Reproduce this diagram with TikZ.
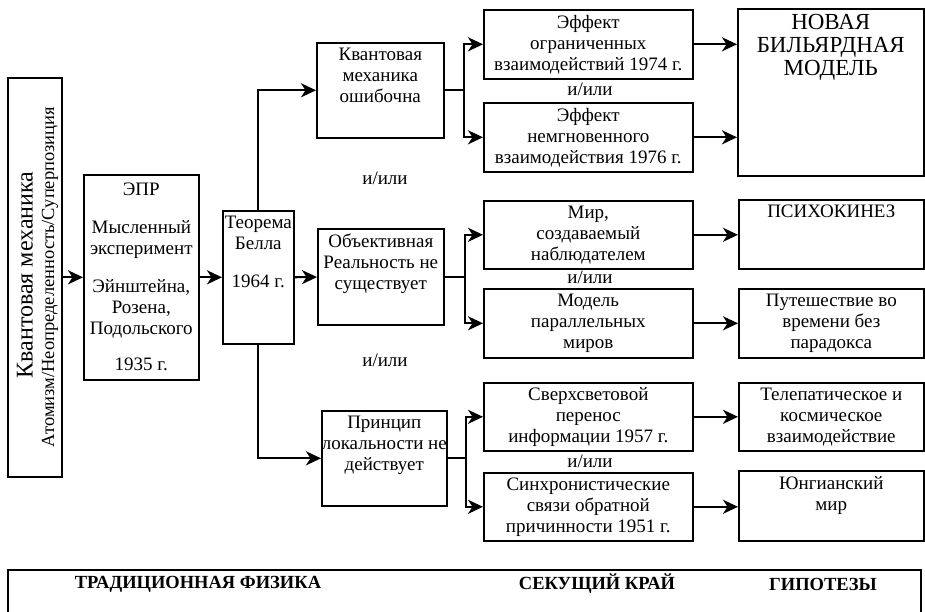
\documentclass[tikz,border=0pt]{standalone}
\usepackage{fontspec}
\setmainfont{Liberation Serif}
\usepackage{tikz}
\usetikzlibrary{arrows.meta, positioning}

\begin{document}
\begin{tikzpicture}[
  x=1pt, y=-1pt,
  font=\fontsize{19}{21}\selectfont,
  box/.style={draw, line width=1.6pt, anchor=north west, inner sep=2pt,
              align=center},
  toptext/.style={label={[anchor=north, align=center, inner sep=6pt]north:{#1}}},
  bigtext/.style={label={[anchor=north, align=center, inner sep=6pt,
                  font=\fontsize{23}{23}\selectfont]north:{#1}}},
  arr/.style={-{Stealth[length=15pt, width=14pt, inset=4.5pt]}, line width=2.2pt},
  orlbl/.style={inner sep=0pt},
  legend/.style={font=\fontsize{18.5}{20}\selectfont\bfseries}
]
  \useasboundingbox (0,0) rectangle (925,611);

  % traditional physics
  \node[box, minimum width=54pt, minimum height=399pt] (qm) at (7,77) {};
  \node[rotate=90, font=\fontsize{24}{28}\selectfont] (qmtitle) at (25,275) {Квантовая механика};
  \node[rotate=90, font=\fontsize{18.5}{21}\selectfont] (qmsub) at (50,277) {Атомизм/Неопределенность/Суперпозиция};
  \node[box, minimum width=115pt, minimum height=205pt] (epr) at (83,174)
    {ЭПР\\[17pt]Мысленный\\эксперимент\\[17pt]Эйнштейна,\\Розена,\\Подольского\\[15pt]1935 г.};
  \node[box, minimum width=71pt, minimum height=133pt,
        toptext={Теорема\\Белла\\[17pt]1964 г.}] (bell) at (222,210) {};

  % cutting edge
  \node[box, minimum width=127pt, minimum height=95pt,
        toptext={Квантовая\\механика\\ошибочна}] (qmwrong) at (316,42) {};
  \node[box, minimum width=126pt, minimum height=96pt,
        toptext={Объективная\\Реальность не\\существует}] (noreal) at (317,228) {};
  \node[box, minimum width=125pt, minimum height=95pt,
        toptext={Принцип\\локальности не\\действует}] (nolocal) at (321,410) {};

  \node[box, minimum width=209pt, minimum height=69pt] (eff1) at (483,9)
    {Эффект\\ограниченных\\взаимодействий 1974 г.};
  \node[box, minimum width=209pt, minimum height=69pt] (eff2) at (483,102)
    {Эффект\\немгновенного\\взаимодействия 1976 г.};
  \node[box, minimum width=209pt, minimum height=68pt] (world) at (483,200)
    {Мир,\\создаваемый\\наблюдателем};
  \node[box, minimum width=209pt, minimum height=69pt] (multi) at (483,288)
    {Модель\\параллельных\\миров};
  \node[box, minimum width=209pt, minimum height=68pt] (ftl) at (483,382)
    {Сверхсветовой\\перенос\\информации 1957 г.};
  \node[box, minimum width=209pt, minimum height=68pt] (sync) at (483,472)
    {Синхронистические\\связи обратной\\причинности 1951 г.};

  % hypotheses
  \node[box, minimum width=186pt, minimum height=167pt,
        bigtext={НОВАЯ\\БИЛЬЯРДНАЯ\\МОДЕЛЬ}] (billiard) at (737,8) {};
  \node[box, minimum width=185pt, minimum height=69pt,
        toptext={ПСИХОКИНЕЗ}] (psycho) at (738,199) {};
  \node[box, minimum width=185pt, minimum height=69pt] (travel) at (738,288)
    {Путешествие во\\времени без\\парадокса};
  \node[box, minimum width=185pt, minimum height=68pt] (telep) at (738,382)
    {Телепатическое и\\космическое\\взаимодействие};
  \node[box, minimum width=185pt, minimum height=70pt,
        toptext={Юнгианский\\мир}] (jung) at (738,470) {};

  % and/or labels
  \node[orlbl] (or1) at (590,89) {и/или};
  \node[orlbl] (or2) at (590,277) {и/или};
  \node[orlbl] (or3) at (590,461) {и/или};
  \node[orlbl] (or4) at (385,178) {и/или};
  \node[orlbl] (or5) at (385,360) {и/или};

  \draw[arr] (qm) -- (epr);
  \draw[arr] (epr) -- (bell);
  \draw[arr] (bell) -- (noreal);
  \draw[arr] (bell.north) |- (qmwrong);
  \draw[arr] (bell.south) |- (nolocal);

  \draw[arr] (qmwrong.east) -- ++(19,0) |- (eff1);
  \draw[arr] (qmwrong.east) -- ++(19,0) |- (eff2);
  \draw[arr] (noreal.east) -- ++(20,0) |- (world);
  \draw[arr] (noreal.east) -- ++(20,0) |- (multi);
  \draw[arr] (nolocal.east) -- ++(18,0) |- (ftl);
  \draw[arr] (nolocal.east) -- ++(18,0) |- (sync);

  \draw[arr] (eff1) -- (eff1 -| billiard.west);
  \draw[arr] (eff2) -- (eff2 -| billiard.west);
  \draw[arr] (world) -- (world -| psycho.west);
  \draw[arr] (multi) -- (travel);
  \draw[arr] (ftl) -- (telep);
  \draw[arr] (sync) -- (sync -| jung.west);

  % bottom legend
  \node[box, minimum width=913pt, minimum height=70pt] (panel) at (7,569) {};
  \node[legend] (trad) at (198,584) {ТРАДИЦИОННАЯ ФИЗИКА};
  \node[legend] (edge) at (597,584) {СЕКУЩИЙ КРАЙ};
  \node[legend] (hyp) at (823,584) {ГИПОТЕЗЫ};
\end{tikzpicture}
\end{document}
